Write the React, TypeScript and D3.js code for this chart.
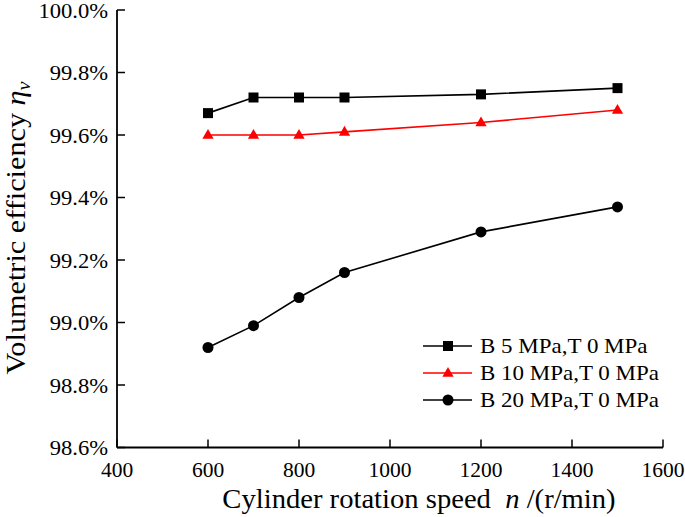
import React from "react";
import * as d3 from "d3";

const speeds = [600, 700, 800, 900, 1200, 1500];
const seriesB5 = [99.67, 99.72, 99.72, 99.72, 99.73, 99.75];
const seriesB10 = [99.6, 99.6, 99.6, 99.61, 99.64, 99.68];
const seriesB20 = [98.92, 98.99, 99.08, 99.16, 99.29, 99.37];
const xTicks = [400, 600, 800, 1000, 1200, 1400, 1600];
const yTicks = [98.6, 98.8, 99.0, 99.2, 99.4, 99.6, 99.8, 100.0];
const legendLabels = ["B 5 MPa,T 0 MPa", "B 10 MPa,T 0 MPa", "B 20 MPa,T 0 MPa"];

const W = 685;
const H = 517;
const L = 117, R = 663, T = 10, B = 447.5;
const FONT = "Liberation Serif";

export default function App() {
  const x = d3.scaleLinear().domain([400, 1600]).range([L, R]);
  const y = d3.scaleLinear().domain([98.6, 100.0]).range([B, T]);
  const line = d3
    .line<[number, number]>()
    .x((d) => x(d[0]))
    .y((d) => y(d[1]));

  const series = [
    { data: seriesB5, color: "#000", marker: "square", label: legendLabels[0] },
    { data: seriesB10, color: "#ff0000", marker: "triangle", label: legendLabels[1] },
    { data: seriesB20, color: "#000", marker: "circle", label: legendLabels[2] },
  ];

  const drawMarker = (type: string, cx: number, cy: number, color: string, key: any) => {
    if (type === "square") {
      return <rect key={key} x={cx - 5} y={cy - 5} width={10} height={10} fill={color} />;
    }
    if (type === "triangle") {
      const p = d3.symbol().type(d3.symbolTriangle).size(55)();
      return <path key={key} d={p || ""} transform={`translate(${cx},${cy + 0.5})`} fill={color} />;
    }
    return <circle key={key} cx={cx} cy={cy} r={5.5} fill={color} />;
  };

  return (
    <svg width={W} height={H} style={{ position: "absolute", left: 0, top: 0, background: "#fff" }}>
      <rect width={W} height={H} fill="#fff" />
      {/* axes */}
      <line x1={L} y1={T} x2={L} y2={B} stroke="#000" strokeWidth={1.8} />
      <line x1={L} y1={B} x2={R} y2={B} stroke="#000" strokeWidth={1.8} />
      {yTicks.map((t) => (
        <g key={"y" + t}>
          <line x1={L} x2={L + 8} y1={y(t)} y2={y(t)} stroke="#000" strokeWidth={1.5} />
          <text
            transform={`translate(${L - 9},${y(t) + 7.5}) scale(1.05,1)`}
            textAnchor="end"
            fontFamily={FONT}
            fontSize={21.5}
          >
            {d3.format(".1f")(t) + "%"}
          </text>
        </g>
      ))}
      {xTicks.map((t) => (
        <g key={"x" + t}>
          <line x1={x(t)} x2={x(t)} y1={B} y2={B - 8} stroke="#000" strokeWidth={1.5} />
          <text x={x(t)} y={477} textAnchor="middle" fontFamily={FONT} fontSize={21.5}>
            {t}
          </text>
        </g>
      ))}
      {/* axis titles */}
      <text
        transform="translate(419,508) scale(1.06,1)"
        textAnchor="middle"
        fontFamily={FONT}
        fontSize={27}
      >
        Cylinder rotation speed{"\u00a0\u00a0"}
        <tspan fontStyle="italic">n</tspan> /(r/min)
      </text>
      <text
        transform="translate(25,228) rotate(-90) scale(1.12,1)"
        textAnchor="middle"
        fontFamily={FONT}
        fontSize={27}
      >
        Volumetric efficiency <tspan fontStyle="italic">η</tspan>
        <tspan fontStyle="italic" fontSize={18} dy={5}>v</tspan>
      </text>
      {/* series */}
      {series.map((s, si) => {
        const pts: [number, number][] = speeds.map((v, i) => [v, s.data[i]]);
        return (
          <g key={"s" + si}>
            <path d={line(pts) || ""} fill="none" stroke={s.color} strokeWidth={1.6} />
            {pts.map((p, i) => drawMarker(s.marker, x(p[0]), y(p[1]), s.color, i))}
          </g>
        );
      })}
      {/* legend */}
      {series.map((s, i) => {
        const cy = 346 + i * 27;
        return (
          <g key={"l" + i}>
            <line x1={423} x2={472} y1={cy} y2={cy} stroke={s.color} strokeWidth={1.6} />
            {drawMarker(s.marker, 448, cy, s.color, "m")}
            <text
              transform={`translate(480,${cy + 7}) scale(1.07,1)`}
              fontFamily={FONT}
              fontSize={21.5}
            >
              {s.label}
            </text>
          </g>
        );
      })}
    </svg>
  );
}
